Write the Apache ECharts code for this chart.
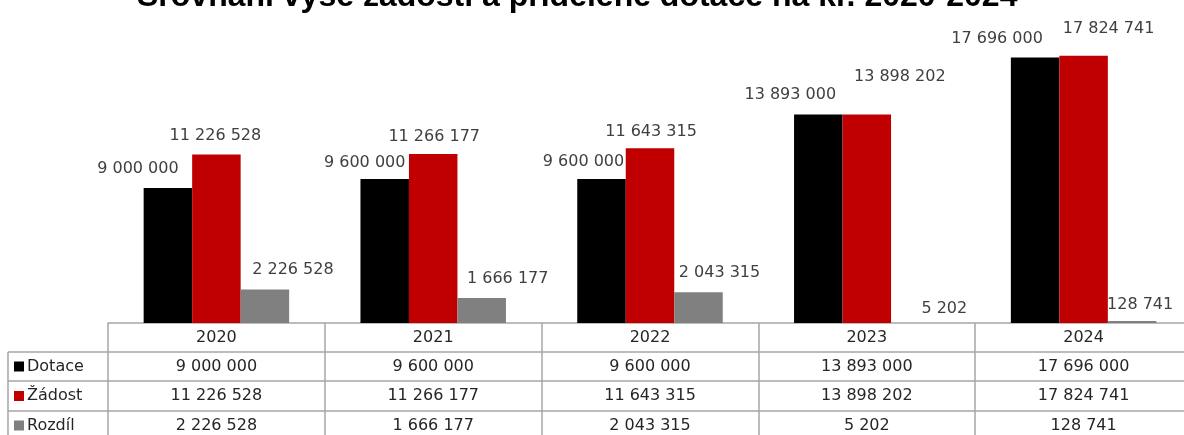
<!DOCTYPE html>
<html>
<head>
<meta charset="utf-8">
<script src="https://cdn.jsdelivr.net/npm/echarts@6/dist/echarts.min.js"></script>
<style>
  html, body { margin: 0; padding: 0; background: #fff; }
  #chart { width: 1184px; height: 435px; }
</style>
</head>
<body>
<div id="chart"></div>
<script>
// data
const years = ['2020', '2021', '2022', '2023', '2024']
const dotace = [9000000, 9600000, 9600000, 13893000, 17696000]
const zadost = [11226528, 11266177, 11643315, 13898202, 17824741]
const rozdil = [2226528, 1666177, 2043315, 5202, 128741]

// label nudges (Excel had them placed by hand)
const shiftDotace = [[-30, -6], [-20, -3], [-18, -4], [-28, -7], [-38, -6]]
const shiftZadost = [[-1, -6], [1, -4], [1, -4], [33, -25], [25, -14]]
const shiftRozdil = [[28, -7], [26, -6], [21, -7], [29, -1], [8, -3]]

const font = 'DejaVu Sans'
const lineCol = '#a6a6a6'

function fmt (v) {
    return String(v).replace(/\B(?=(\d{3})+(?!\d))/g, ' ')
}

function barSeries (name, values, shifts, color) {
    return {
        name: name,
        type: 'bar',
        barWidth: 48.5,
        barGap: '0%',
        itemStyle: { color: color },
        label: {
            show: true,
            position: 'top',
            distance: 5,
            fontFamily: font,
            fontSize: 16,
            color: '#404040',
            formatter: p => fmt(p.value)
        },
        data: values.map((v, i) => ({ value: v, label: { offset: shifts[i] } }))
    }
}

// one extra x axis per table row, the axis labels are the cells
function rowAxis (values, offset) {
    return {
        type: 'category',
        data: years,
        position: 'bottom',
        offset: offset,
        axisLine: { show: true, lineStyle: { color: lineCol, width: 1.5 } },
        axisTick: { show: false },
        axisLabel: {
            interval: 0,
            margin: 6,
            fontFamily: font,
            fontSize: 16,
            lineHeight: 18,
            color: '#262626',
            formatter: (v, i) => fmt(values[i])
        }
    }
}

const chart = echarts.init(document.getElementById('chart'))

const option = {
    animation: false,
    title: {
        text: 'Srovnání výše žádostí a přidělené dotace na kr. 2020-2024',
        left: 137,
        top: -19,
        padding: 0,
        textStyle: {
            fontFamily: 'Liberation Sans',
            fontWeight: 'bold',
            fontSize: 32,
            color: '#000'
        }
    },
    legend: {
        orient: 'vertical',
        left: 14,
        top: 357.5,
        padding: 0,
        itemWidth: 10,
        itemHeight: 10,
        itemGap: 11.5,
        icon: 'rect',
        selectedMode: false,
        textStyle: { fontFamily: font, fontSize: 16, lineHeight: 18, color: '#262626', padding: [0, 0, 0, -2] },
        data: ['Dotace', 'Žádost', 'Rozdíl']
    },
    // the table runs on past the right edge of the picture
    grid: { left: 108, right: -8, top: 23, bottom: 112, outerBoundsMode: 'none' },
    xAxis: [
        {
            type: 'category',
            data: years,
            axisLine: { show: true, lineStyle: { color: lineCol, width: 1.5 } },
            axisTick: { show: true, length: 120, lineStyle: { color: lineCol, width: 1.5 } },
            axisLabel: {
                interval: 0,
                margin: 6,
                fontFamily: font,
                fontSize: 16,
                lineHeight: 18,
                color: '#262626'
            }
        },
        rowAxis(dotace, 29),
        rowAxis(zadost, 58),
        rowAxis(rozdil, 88)
    ],
    yAxis: {
        type: 'value',
        min: 0,
        max: 20000000,
        show: false
    },
    graphic: [
        // left stub of the data table, beside the legend keys
        { type: 'line', shape: { x1: 8, y1: 352, x2: 108, y2: 352 }, style: { stroke: lineCol, lineWidth: 1.5 } },
        { type: 'line', shape: { x1: 8, y1: 381, x2: 108, y2: 381 }, style: { stroke: lineCol, lineWidth: 1.5 } },
        { type: 'line', shape: { x1: 8, y1: 411, x2: 108, y2: 411 }, style: { stroke: lineCol, lineWidth: 1.5 } },
        { type: 'line', shape: { x1: 8, y1: 352, x2: 8, y2: 440 }, style: { stroke: lineCol, lineWidth: 1.5 } }
    ],
    series: [
        barSeries('Dotace', dotace, shiftDotace, '#000000'),
        barSeries('Žádost', zadost, shiftZadost, '#c00000'),
        barSeries('Rozdíl', rozdil, shiftRozdil, '#808080')
    ]
}

chart.setOption(option)
</script>
</body>
</html>
